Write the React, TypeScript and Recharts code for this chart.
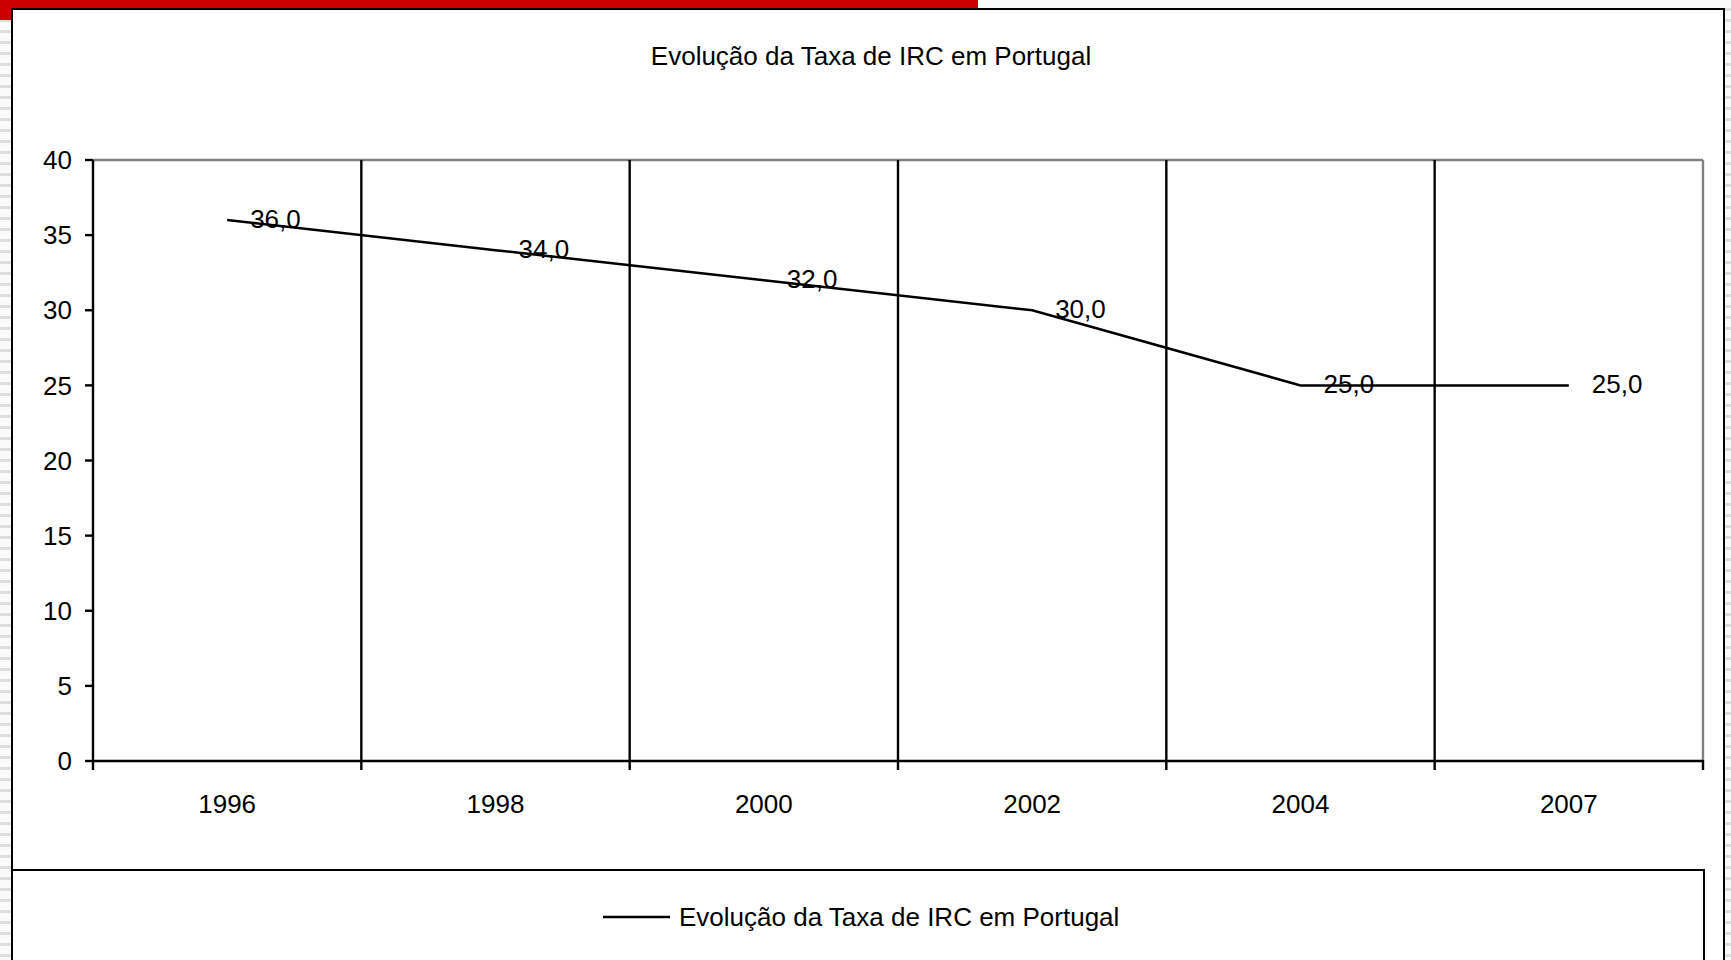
import { LineChart, Line, XAxis, YAxis, ReferenceLine, LabelList, Legend } from 'recharts'

const years = ['1996', '1998', '2000', '2002', '2004', '2007']
const rates = [36, 34, 32, 30, 25, 25]
const yTicks = [0, 5, 10, 15, 20, 25, 30, 35, 40]
const seriesName = 'Evolução da Taxa de IRC em Portugal'
const title = 'Evolução da Taxa de IRC em Portugal'

const chartData = years.map((year, i) => ({ idx: i, year, rate: rates[i] }))
// ticks at category centres (labels) and at category boundaries (tick marks / grid)
const xTicks = years.flatMap((_, i) => [i - 0.5, i]).concat(years.length - 0.5)
const boundaries = years.slice(0, -1).map((_, i) => i + 0.5)

const FONT = '"Liberation Sans", Arial, sans-serif'

const stripes = 'repeating-linear-gradient(to bottom, #fafafa 0px, #fafafa 8px, #dedede 8px, #dedede 11px)'

const XTick = (props: any) => {
  const { x, y, payload } = props
  const v = payload.value
  if (Number.isInteger(v)) {
    return (
      <text x={x} y={y + 34} dy="0.71em" textAnchor="middle" fontSize={26} fontFamily={FONT} fill="#000">
        {years[v]}
      </text>
    )
  }
  return <line x1={x} y1={y - 1} x2={x} y2={y + 9} stroke="#000" strokeWidth={2.4} />
}

const ValueLabel = (props: any) => {
  const { x, y, value } = props
  return (
    <text x={x + 23} y={y} dy="0.3em" fontSize={26} fontFamily={FONT} fill="#000">
      {Number(value).toFixed(1).replace('.', ',')}
    </text>
  )
}

const LegendContent = (props: any) => {
  const item = props.payload?.[0]
  return (
    <div style={{ display: 'flex', alignItems: 'center', height: 30 }}>
      <svg width={67} height={30} style={{ display: 'block' }}>
        <line x1={0} y1={15} x2={67} y2={15} stroke="#000" strokeWidth={2.5} />
      </svg>
      <span style={{ marginLeft: 9, fontSize: 26, lineHeight: '30px', color: '#000', fontFamily: FONT, whiteSpace: 'nowrap' }}>
        {item ? item.value : seriesName}
      </span>
    </div>
  )
}

export default function App() {
  return (
    <div style={{ position: 'absolute', left: 0, top: 0, width: 1731, height: 960, overflow: 'hidden', background: stripes, fontFamily: FONT }}>
      {/* red bar on top */}
      <div style={{ position: 'absolute', left: 0, top: 0, width: 978, height: 8, background: '#cc0000' }} />
      <div style={{ position: 'absolute', left: 0, top: 0, width: 11, height: 20, background: '#cc0000' }} />

      {/* chart frame */}
      <div style={{ position: 'absolute', left: 11, top: 8, width: 1714, height: 980, background: '#fff', border: '2px solid #000', boxSizing: 'border-box' }} />

      {/* legend frame */}
      <div style={{ position: 'absolute', left: 11, top: 869, width: 1694, height: 200, border: '2px solid #000', boxSizing: 'border-box' }} />

      <div style={{ position: 'absolute', left: 871, top: 43, transform: 'translateX(-50%)', fontSize: 26, lineHeight: '26px', whiteSpace: 'nowrap', color: '#000' }}>
        {title}
      </div>

      <div style={{ position: 'absolute', left: 0, top: 0 }}>
        <LineChart width={1731} height={960} data={chartData} margin={{ top: 160, right: 28, left: 13, bottom: 109 }}>
          <XAxis
            dataKey="idx"
            type="number"
            domain={[-0.5, years.length - 0.5]}
            ticks={xTicks}
            interval={0}
            tick={<XTick />}
            tickLine={false}
            tickSize={0}
            tickMargin={0}
            height={60}
            axisLine={{ stroke: '#000', strokeWidth: 2.4 }}
          />
          <YAxis
            domain={[0, 40]}
            ticks={yTicks}
            interval={0}
            width={80}
            tickSize={8}
            tickMargin={13}
            tick={{ fontSize: 26, fill: '#000', fontFamily: FONT }}
            tickLine={{ stroke: '#000', strokeWidth: 2.4 }}
            axisLine={{ stroke: '#000', strokeWidth: 2.4 }}
          />
          <ReferenceLine y={40} stroke="#808080" strokeWidth={2.4} />
          <ReferenceLine x={years.length - 0.5} stroke="#808080" strokeWidth={2.4} />
          {boundaries.map((b) => (
            <ReferenceLine key={b} x={b} stroke="#000" strokeWidth={2.4} />
          ))}
          <Legend
            content={<LegendContent />}
            wrapperStyle={{ position: 'absolute', left: 603, top: 902, width: 'auto', bottom: 'auto' }}
          />
          <Line
            type="linear"
            dataKey="rate"
            name={seriesName}
            stroke="#000"
            strokeWidth={2.5}
            dot={false}
            activeDot={false}
            isAnimationActive={false}
          >
            <LabelList dataKey="rate" content={<ValueLabel />} />
          </Line>
        </LineChart>
      </div>
    </div>
  )
}
